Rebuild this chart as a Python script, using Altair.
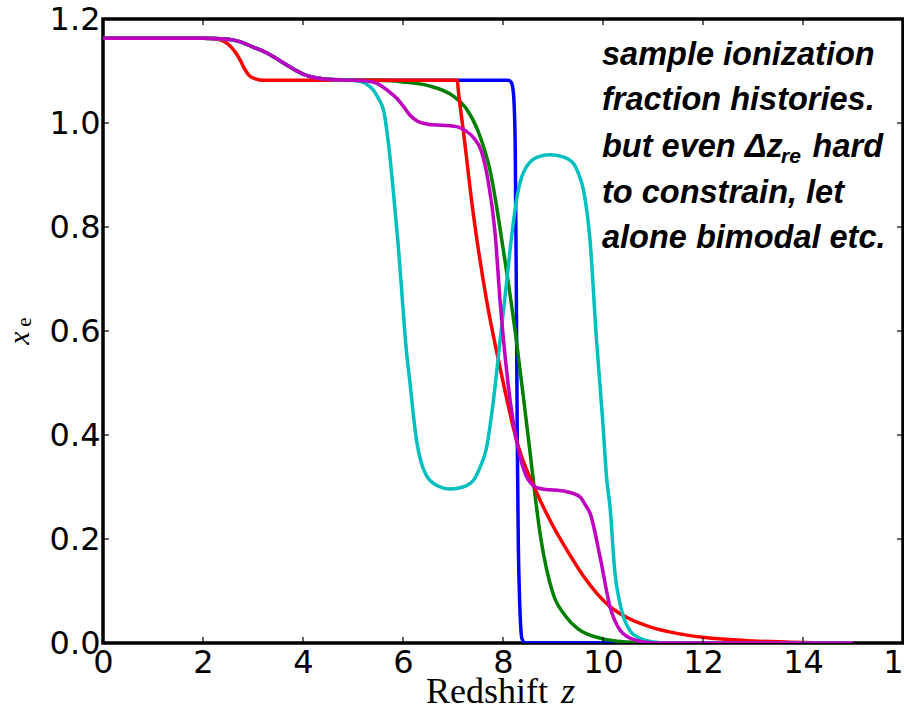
import altair as alt
import pandas as pd

# ---- ionization histories: redshift z and free-electron fraction x_e ----
# shared early part (helium double reionization near z ~ 3.5)
z_he = [0.0, 1.0, 2.0, 2.5, 2.75, 3.0, 3.25, 3.5, 3.75, 4.0, 4.25, 4.5, 5.0]
xe_he = [1.163, 1.163, 1.163, 1.161, 1.156, 1.146, 1.136, 1.122, 1.107, 1.094, 1.087, 1.084, 1.082]

z_blue = [5.5, 8.10, 8.16, 8.20, 8.225, 8.245, 8.265, 8.285, 8.305, 8.33, 8.355, 8.38, 8.45, 15.0]
xe_blue = [1.082, 1.082, 1.079, 1.065, 1.03, 0.95, 0.70, 0.40, 0.20, 0.09, 0.03, 0.008, 0.0, 0.0]

z_green = [5.5, 6.0, 6.5, 7.0, 7.25, 7.5, 7.75, 8.0, 8.25, 8.5, 8.75, 9.0, 9.25, 9.5, 10.0, 10.5, 11.0, 15.0]
xe_green = [1.082, 1.079, 1.072, 1.052, 1.03, 0.985, 0.905, 0.76, 0.595, 0.40, 0.205, 0.095, 0.052,
            0.027, 0.008, 0.002, 0.0, 0.0]

z_red = [0.0, 1.0, 2.0, 2.3, 2.5, 2.64, 2.75, 2.81, 2.94, 3.05, 3.2, 5.0, 7.08, 7.12, 7.2, 7.4, 7.67,
         7.94, 8.3, 8.67, 9.0, 9.27, 9.6, 10.14, 10.5, 10.94, 11.5, 12.0, 13.0, 14.0, 15.0]
xe_red = [1.163, 1.163, 1.163, 1.161, 1.152, 1.137, 1.12, 1.108, 1.09, 1.085, 1.082, 1.082, 1.082,
          1.05, 0.99, 0.83, 0.66, 0.53, 0.38, 0.29, 0.225, 0.18, 0.13, 0.07, 0.048, 0.031, 0.018,
          0.011, 0.004, 0.001, 0.0]

z_cyan = [5.14, 5.3, 5.41, 5.52, 5.61, 5.71, 5.81, 5.9, 5.98, 6.06, 6.14, 6.27, 6.37, 6.47, 6.7,
          6.94, 7.2, 7.41, 7.55, 7.67, 7.8, 7.94, 8.07, 8.17, 8.27, 8.37, 8.47, 8.7, 8.94, 9.2,
          9.41, 9.52, 9.61, 9.74, 9.87, 10.0, 10.07, 10.14, 10.24, 10.33, 10.41, 10.55, 10.74,
          11.0, 11.3, 15.0]
xe_cyan = [1.080, 1.073, 1.063, 1.045, 1.025, 0.96, 0.865, 0.77, 0.67, 0.57, 0.50, 0.39, 0.345,
           0.322, 0.302, 0.296, 0.300, 0.313, 0.34, 0.375, 0.46, 0.58, 0.692, 0.78, 0.852, 0.895,
           0.916, 0.935, 0.939, 0.935, 0.922, 0.90, 0.871, 0.775, 0.583, 0.42, 0.32, 0.262, 0.134,
           0.08, 0.05, 0.022, 0.009, 0.002, 0.0, 0.0]

z_magenta = [5.4, 5.7, 5.87, 6.0, 6.14, 6.3, 6.47, 7.07, 7.25, 7.41, 7.57, 7.7, 7.84, 7.94, 8.1,
             8.3, 8.47, 8.6, 8.74, 9.27, 9.54, 9.65, 9.74, 9.94, 10.14, 10.34, 10.6, 11.0, 15.0]
xe_magenta = [1.079, 1.062, 1.048, 1.033, 1.015, 1.003, 0.998, 0.993, 0.985, 0.972, 0.945, 0.89,
              0.79, 0.66, 0.50, 0.375, 0.32, 0.303, 0.297, 0.291, 0.281, 0.265, 0.25, 0.166, 0.07,
              0.025, 0.007, 0.0, 0.0]

series = [
    ("blue", z_he + z_blue, xe_he + xe_blue, "#0000ff"),
    ("green", z_he + z_green, xe_he + xe_green, "#008000"),
    ("red", z_red, xe_red, "#ff0000"),
    ("cyan", z_he + z_cyan, xe_he + xe_cyan, "#00bfbf"),
    ("magenta", z_he + z_magenta, xe_he + xe_magenta, "#bf00bf"),
]

x_ticks = [0, 2, 4, 6, 8, 10, 12, 14, 16]
y_ticks = [0.0, 0.2, 0.4, 0.6, 0.8, 1.0, 1.2]

note_lines = ["sample ionization", "fraction histories.", "but even \u0394z", "to constrain, let",
              "alone bimodal etc."]

W, H = 800, 624
x_scale = alt.Scale(domain=[0, 16], nice=False, zero=False)
y_scale = alt.Scale(domain=[0, 1.2], nice=False, zero=False)

x_axis = alt.Axis(values=x_ticks, title=None, grid=False, domain=False, ticks=False,
                  labelFont="DejaVu Sans", labelFontSize=32, labelColor="black",
                  labelPadding=4, labelFlush=False, labelOverlap=False, format="d")
y_axis = alt.Axis(values=y_ticks, title=None, grid=False, domain=False, ticks=False,
                  labelFont="DejaVu Sans", labelFontSize=32, labelColor="black",
                  labelPadding=3, labelFlush=False, labelOverlap=False, format=".1f")

layers = []
for name, zs, xs, col in series:
    df = pd.DataFrame({"z": zs, "xe": xs})
    layers.append(
        alt.Chart(df).mark_line(color=col, strokeWidth=3.5, interpolate="monotone", clip=True)
        .encode(x=alt.X("z:Q", scale=x_scale, axis=x_axis),
                y=alt.Y("xe:Q", scale=y_scale, axis=y_axis))
    )

# inward tick marks on all four sides
xt = pd.DataFrame({"z": x_ticks})
yt = pd.DataFrame({"xe": y_ticks})
tick_style = dict(color="black", strokeWidth=1.2)
layers += [
    alt.Chart(xt).mark_rule(**tick_style).encode(
        x=alt.X("z:Q", scale=x_scale, axis=x_axis), y=alt.value(H), y2=alt.value(H - 6)),
    alt.Chart(xt).mark_rule(**tick_style).encode(
        x=alt.X("z:Q", scale=x_scale, axis=x_axis), y=alt.value(0), y2=alt.value(6)),
    alt.Chart(yt).mark_rule(**tick_style).encode(
        y=alt.Y("xe:Q", scale=y_scale, axis=y_axis), x=alt.value(0), x2=alt.value(6)),
    alt.Chart(yt).mark_rule(**tick_style).encode(
        y=alt.Y("xe:Q", scale=y_scale, axis=y_axis), x=alt.value(W), x2=alt.value(W - 6)),
]


def text_layer(s, px, py, **kw):
    return alt.Chart(pd.DataFrame({"s": [s]})).mark_text(**kw).encode(
        text="s:N", x=alt.value(px), y=alt.value(py))


note_style = dict(font="Liberation Sans", fontWeight="bold", fontStyle="italic", fontSize=32.5,
                  color="black", align="left", baseline="alphabetic")
for s, py in zip(note_lines, [46, 91, 138, 184, 229]):
    layers.append(text_layer(s, 499, py, **note_style))
layers.append(text_layer("re", 678, 144, **{**note_style, "fontSize": 21}))
layers.append(text_layer("hard", 780, 138, **{**note_style, "align": "right"}))

# axis titles
serif = dict(font="Liberation Serif", fontSize=36, color="black", baseline="alphabetic")
layers.append(text_layer("Redshift", 323, 684, align="left", **serif))
layers.append(text_layer("z", 458, 684, align="left", fontStyle="italic", **serif))
layers.append(text_layer("x", -83, 319, align="center", baseline="middle", angle=270,
                         font="Liberation Serif", fontStyle="italic", fontSize=30, color="black"))
layers.append(text_layer("e", -78, 303, align="center", baseline="middle", angle=270,
                         font="Liberation Serif", fontSize=21, color="black"))

chart = (
    alt.layer(*layers)
    .properties(width=W, height=H, padding={"left": 103, "top": 19, "right": 1, "bottom": 71},
                autosize=alt.AutoSizeParams(type="none"), background="white")
    .configure_view(stroke="black", strokeWidth=3.5)
)

chart.save("out.html", embed_options={"renderer": "svg", "actions": False})
